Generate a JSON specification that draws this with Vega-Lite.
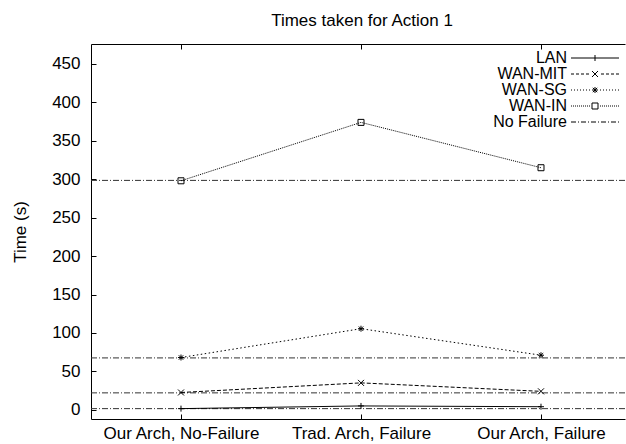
{
  "$schema": "https://vega.github.io/schema/vega-lite/v6.json",
  "width": 534,
  "height": 375,
  "autosize": {"type": "none"},
  "padding": {"left": 91, "top": 44, "right": 1, "bottom": 25},
  "background": "white",
  "config": {
    "view": {"stroke": null},
    "font": "Liberation Sans",
    "axis": {"grid": false, "domainColor": "black", "tickColor": "black", "labelColor": "black", "titleColor": "black", "labelFontSize": 17, "titleFontSize": 17, "titleFontWeight": "normal", "labelFont": "Liberation Sans", "titleFont": "Liberation Sans", "domainWidth": 1, "tickWidth": 1}
  },
  "title": {"text": "Times taken for Action 1", "fontSize": 17, "fontWeight": "normal", "font": "Liberation Sans", "color": "black", "offset": 14, "anchor": "middle", "dx": 4},
  "datasets": {
    "pts": [
      {"series": "LAN", "idx": 0, "v": 1.5},
      {"series": "LAN", "idx": 1, "v": 5},
      {"series": "LAN", "idx": 2, "v": 4},
      {"series": "WAN-MIT", "idx": 0, "v": 22.5},
      {"series": "WAN-MIT", "idx": 1, "v": 35},
      {"series": "WAN-MIT", "idx": 2, "v": 24},
      {"series": "WAN-SG", "idx": 0, "v": 68},
      {"series": "WAN-SG", "idx": 1, "v": 105.5},
      {"series": "WAN-SG", "idx": 2, "v": 71},
      {"series": "WAN-IN", "idx": 0, "v": 298},
      {"series": "WAN-IN", "idx": 1, "v": 374},
      {"series": "WAN-IN", "idx": 2, "v": 315}
    ],
    "nf": [
      {"series": "LAN", "v": 1.5},
      {"series": "WAN-MIT", "v": 22},
      {"series": "WAN-SG", "v": 67.5},
      {"series": "WAN-IN", "v": 298.5}
    ],
    "leg": [
      {"entry": "LAN"},
      {"entry": "WAN-MIT"},
      {"entry": "WAN-SG"},
      {"entry": "WAN-IN"},
      {"entry": "No Failure"}
    ]
  },
  "layer": [
    {
      "data": {"name": "nf"},
      "mark": {"type": "rule", "color": "#333333", "strokeWidth": 1, "strokeDash": [6, 2, 1, 2]},
      "encoding": {
        "y": {"field": "v", "type": "quantitative", "scale": {"domain": [-12, 476], "nice": false, "zero": false},
          "axis": {"orient": "left", "values": [0, 50, 100, 150, 200, 250, 300, 350, 400, 450], "tickSize": -5, "labelPadding": 16, "title": "Time (s)", "titlePadding": 22}}
      }
    },
    {
      "data": {"name": "pts"},
      "mark": {"type": "line", "color": "black", "strokeWidth": 1},
      "encoding": {
        "x": {"field": "idx", "type": "quantitative", "scale": {"domain": [-0.5, 2.4667], "nice": false, "zero": false},
          "axis": {"orient": "bottom", "values": [0, 1, 2], "tickSize": -5, "labelPadding": 11, "title": null,
            "labelExpr": "datum.value == 0 ? 'Our Arch, No-Failure' : datum.value == 1 ? 'Trad. Arch, Failure' : 'Our Arch, Failure'"}},
        "y": {"field": "v", "type": "quantitative"},
        "detail": {"field": "series"},
        "strokeDash": {"field": "series", "type": "nominal", "legend": null,
          "scale": {"domain": ["LAN", "WAN-MIT", "WAN-SG", "WAN-IN"], "range": [[1, 0], [4, 2], [1.5, 2.5], [1, 1]]}}
      }
    },
    {
      "data": {"name": "pts"},
      "mark": {"type": "point", "color": "black", "filled": false, "size": 4, "strokeWidth": 1, "opacity": 1},
      "encoding": {
        "x": {"field": "idx", "type": "quantitative",
          "axis": {"orient": "top", "values": [0, 1, 2], "tickSize": -5, "labels": false, "title": null}},
        "y": {"field": "v", "type": "quantitative"},
        "shape": {"field": "series", "type": "nominal", "legend": null,
          "scale": {"domain": ["LAN", "WAN-MIT", "WAN-SG", "WAN-IN"],
            "range": ["M-3,0H3M0,-3V3", "M-3,-3L3,3M-3,3L3,-3", "M-3,0H3M0,-3V3M-2.2,-2.2L2.2,2.2M-2.2,2.2L2.2,-2.2", "M-3,-3H3V3H-3Z"]}}
      }
    },
    {
      "data": {"name": "leg"},
      "mark": {"type": "point", "color": "black", "filled": false, "size": 4, "opacity": 0},
      "encoding": {
        "shape": {"field": "entry", "type": "nominal",
          "scale": {"domain": ["LAN", "WAN-MIT", "WAN-SG", "WAN-IN", "No Failure"],
            "range": [
              "M-24,0H24M0,-3V3",
              "M-24,0H-21M-19,0H-16M-14,0H-11M-9,0H-6M-3,-3L3,3M-3,3L3,-3M6,0H9M11,0H14M16,0H19M21,0H24",
              "M-24,0H-23M-21,0H-20M-18,0H-17M-15,0H-14M-12,0H-11M-9,0H-8M-6,0H-5M-3,0H3M0,-3V3M-2.2,-2.2L2.2,2.2M-2.2,2.2L2.2,-2.2M5,0H6M8,0H9M11,0H12M14,0H15M17,0H18M20,0H21M23,0H24",
              "M-24,0H-23M-22,0H-21M-20,0H-19M-18,0H-17M-16,0H-15M-14,0H-13M-12,0H-11M-10,0H-9M-8,0H-7M-6,0H-5M-3,-3H3V3H-3ZM5,0H6M7,0H8M9,0H10M11,0H12M13,0H14M15,0H16M17,0H18M19,0H20M21,0H22M23,0H24",
              "M-24,0H-19M-17,0H-16M-14,0H-9M-7,0H-6M-4,0H1M3,0H4M6,0H11M13,0H14M16,0H21M23,0H24"
            ]},
          "legend": {"title": null, "orient": "none", "legendX": 496, "legendY": 6, "padding": 0,
            "labelAlign": "right", "labelOffset": -36, "labelFontSize": 16, "labelFont": "Liberation Sans", "labelColor": "black",
            "symbolSize": 4, "symbolOpacity": 1, "symbolStrokeColor": "black", "symbolFillColor": "transparent", "symbolStrokeWidth": 1,
            "rowPadding": -1.5, "labelLimit": 300}}
      }
    }
  ],
  "resolve": {"scale": {"shape": "independent"}, "axis": {"x": "independent"}}
}
